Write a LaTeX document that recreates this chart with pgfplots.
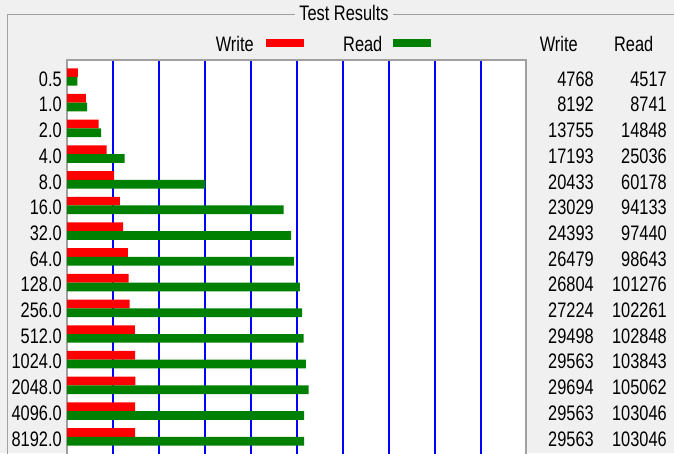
\documentclass[border=0pt]{standalone}
\usepackage{pgfplots}
\pgfplotsset{compat=1.18}
\usepackage{pgfplotstable}
\usepackage{fontspec}
\setmainfont{Liberation Sans}
\newfontfamily\ui[FakeStretch=0.78]{Liberation Sans}
\definecolor{winbg}{HTML}{F0F0F0}
\definecolor{framegray}{HTML}{A0A0A0}
\definecolor{wred}{HTML}{FF0000}
\definecolor{rgreen}{HTML}{008000}
\definecolor{gblue}{HTML}{0000FF}

\pgfplotstableread{
idx size write read
0 0.5 4768 4517
1 1.0 8192 8741
2 2.0 13755 14848
3 4.0 17193 25036
4 8.0 20433 60178
5 16.0 23029 94133
6 32.0 24393 97440
7 64.0 26479 98643
8 128.0 26804 101276
9 256.0 27224 102261
10 512.0 29498 102848
11 1024.0 29563 103843
12 2048.0 29694 105062
13 4096.0 29563 103046
14 8192.0 29563 103046
}\atto

\newcommand{\uifs}{\ui\fontsize{15.75}{18}\selectfont}

\begin{document}
\begin{tikzpicture}[x=0.75pt,y=-0.75pt, font=\uifs, every node/.style={inner sep=0pt}]
\useasboundingbox (0,0) rectangle (674,453);
\clip (0,0) rectangle (674,453);
\fill[winbg] (0,0) rectangle (674,453);
% group box
\draw[framegray, line width=0.75pt] (7.5,470) -- (7.5,14.5) -- (690,14.5);
\fill[winbg] (295,2) rectangle (393,26);
\node at (344,13) {Test Results};
% legend
\node[anchor=east] at (254,43.5) {Write};
\fill[wred] (266,39) rectangle (304,47);
\node[anchor=east] at (382.6,43.5) {Read};
\fill[rgreen] (392.5,39) rectangle (431,47);
% column headers
\node[anchor=east] at (578,43.5) {Write};
\node[anchor=east] at (653.5,43.5) {Read};

\begin{axis}[
  at={(50.25pt,-45pt)}, anchor=north west,
  scale only axis, width=343.9pt, height=300pt,
  xmin=0, xmax=199348, ymin=-0.661, ymax=14.903,
  y dir=reverse,
  axis background/.style={fill=white},
  axis line style={framegray, line width=1.5pt},
  xtick={20000,40000,...,180000}, xticklabels={},
  xmajorgrids, major grid style={gblue, line width=0.9pt},
  ytick={0,...,14},
  yticklabels={0.5,1.0,2.0,4.0,8.0,16.0,32.0,64.0,128.0,256.0,512.0,1024.0,2048.0,4096.0,8192.0},
  major tick length=0pt, tick style={draw=none},
  yticklabel style={font=\uifs, inner sep=0pt, xshift=-3.75pt, yshift=-1.5pt},
  clip=false,
]
\addplot[xbar, bar width=0.339, bar shift=-0.1695, fill=wred, draw=none] table[x=write, y=idx] {\atto};
\addplot[xbar, bar width=0.339, bar shift=0.1695, fill=rgreen, draw=none] table[x=read, y=idx] {\atto};
\addplot[draw=none, mark=none, point meta=explicit symbolic,
  nodes near coords={\pgfplotspointmeta},
  every node near coord/.style={anchor=east, inner sep=0pt, yshift=-1.5pt, font=\uifs, text=black}]
  table[x expr=229130, y=idx, meta=write] {\atto};
\addplot[draw=none, mark=none, point meta=explicit symbolic,
  nodes near coords={\pgfplotspointmeta},
  every node near coord/.style={anchor=east, inner sep=0pt, yshift=-1.5pt, font=\uifs, text=black}]
  table[x expr=260870, y=idx, meta=read] {\atto};
\end{axis}
\end{tikzpicture}
\end{document}
